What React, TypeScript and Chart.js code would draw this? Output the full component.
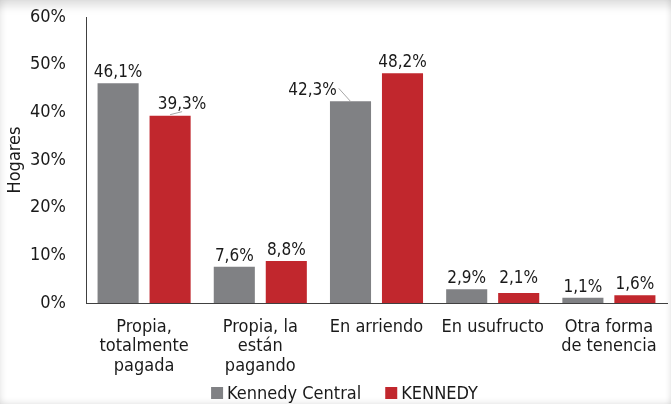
import React, { useEffect, useRef } from "react";
import { Chart, registerables } from "chart.js";

Chart.register(...registerables);

const categories: string[][] = [
  ["Propia,", "totalmente", "pagada"],
  ["Propia, la", "están", "pagando"],
  ["En arriendo"],
  ["En usufructo"],
  ["Otra forma", "de tenencia"],
];
const seriesNames = ["Kennedy Central", "KENNEDY"];
const kennedyCentral = [46.1, 7.6, 42.3, 2.9, 1.1];
const kennedy = [39.3, 8.8, 48.2, 2.1, 1.6];
const yTicksMax = 60;
const yTicksStep = 10;
const yTitle = "Hogares";

const FONT = "'DejaVu Sans Condensed', 'DejaVu Sans', sans-serif";
const GRAY = "#808184";
const RED = "#c1272d";
const TEXT = "#1a1a1a";

// label placement tweaks (dataset-index -> [dx, dy, leader])
const labelShift: Record<string, [number, number, boolean]> = {
  "1-0": [12, -1, true],
  "0-2": [-38, 0, true],
  "1-3": [0, -4, false],
};

const fmt = (v: number) => v.toFixed(1).replace(".", ",") + "%";

const valueLabels = {
  id: "valueLabels",
  afterDatasetsDraw(chart: any) {
    const ctx = chart.ctx;
    ctx.save();
    ctx.font = `17px ${FONT}`;
    ctx.fillStyle = TEXT;
    ctx.textAlign = "center";
    ctx.textBaseline = "alphabetic";
    chart.data.datasets.forEach((ds: any, di: number) => {
      const meta = chart.getDatasetMeta(di);
      meta.data.forEach((bar: any, i: number) => {
        const v = ds.data[i];
        const sh = labelShift[`${di}-${i}`] || [0, 0, false];
        const tx = bar.x + sh[0];
        const ty = bar.y - 6 + sh[1];
        const text = fmt(v);
        ctx.fillText(text, tx, ty);
        if (sh[2]) {
          const w = ctx.measureText(text).width;
          ctx.beginPath();
          ctx.strokeStyle = "#a6a6a6";
          ctx.lineWidth = 1;
          if (sh[0] < 0) {
            ctx.moveTo(tx + w / 2 + 2, ty - 7);
            ctx.lineTo(bar.x, bar.y);
          } else {
            ctx.moveTo(bar.x, bar.y - 1);
            ctx.lineTo(tx, ty + 3);
          }
          ctx.stroke();
        }
      });
    });
    ctx.restore();
  },
};

// legend drawn from the datasets (labels + colours), below the category axis
const bottomLegend = {
  id: "bottomLegend",
  afterDraw(chart: any) {
    const ctx = chart.ctx;
    const box = 12;
    const boxGap = 4;
    const itemGap = 24;
    ctx.save();
    ctx.font = `18px ${FONT}`;
    ctx.textBaseline = "middle";
    ctx.textAlign = "left";
    const items = chart.data.datasets.map((ds: any) => ({
      text: ds.label,
      color: ds.backgroundColor,
      w: ctx.measureText(ds.label).width,
    }));
    const total =
      items.reduce((s: number, it: any) => s + box + boxGap + it.w, 0) +
      itemGap * (items.length - 1);
    const cy = chart.height - 11;
    let x = chart.width / 2 + 9 - total / 2;
    items.forEach((it: any) => {
      ctx.fillStyle = it.color;
      ctx.fillRect(x, cy - box / 2, box, box);
      x += box + boxGap;
      ctx.fillStyle = TEXT;
      ctx.fillText(it.text, x, cy + 1);
      x += it.w + itemGap;
    });
    ctx.restore();
  },
};

export default function App() {
  const ref = useRef<HTMLCanvasElement | null>(null);
  useEffect(() => {
    document.body.style.margin = "0";
    if (!ref.current) return;
    const chart = new Chart(ref.current, {
      type: "bar",
      data: {
        labels: categories,
        datasets: [
          {
            label: seriesNames[0],
            data: kennedyCentral,
            backgroundColor: GRAY,
            categoryPercentage: 0.895,
            barPercentage: 0.79,
          },
          {
            label: seriesNames[1],
            data: kennedy,
            backgroundColor: RED,
            categoryPercentage: 0.895,
            barPercentage: 0.79,
          },
        ],
      },
      options: {
        responsive: false,
        animation: false,
        layout: { padding: { left: 0, top: 17, right: 4, bottom: 29 } },
        plugins: {
          legend: { display: false },
          tooltip: { enabled: false },
        },
        scales: {
          x: {
            grid: {
              display: false,
              drawTicks: true,
              tickLength: 14,
              tickColor: "rgba(0,0,0,0)",
            },
            border: { display: true, color: "#404040", width: 1 },
            ticks: {
              color: TEXT,
              padding: 0,
              maxRotation: 0,
              autoSkip: false,
              font: { family: FONT, size: 18, lineHeight: 1.1 },
            },
            afterFit: (s: any) => {
              s.height = 72;
            },
          },
          y: {
            min: 0,
            max: yTicksMax,
            grid: {
              display: false,
              drawTicks: true,
              tickLength: 20,
              tickColor: "rgba(0,0,0,0)",
            },
            border: { display: true, color: "#404040", width: 1 },
            ticks: {
              stepSize: yTicksStep,
              padding: 0,
              color: TEXT,
              font: { family: FONT, size: 18 },
              callback: (v: any) => v + "%",
            },
            title: {
              display: true,
              text: yTitle,
              color: TEXT,
              font: { family: FONT, size: 18 },
              padding: { top: 5, bottom: 0 },
            },
            afterFit: (s: any) => {
              s.width = 86;
            },
          },
        },
      },
      plugins: [valueLabels, bottomLegend],
    });
    return () => chart.destroy();
  }, []);
  return (
    <div
      style={{
        width: 671,
        height: 404,
        position: "relative",
        background: "#fff",
        boxShadow:
          "inset 0 14px 10px -8px rgba(0,0,0,0.13), inset -5px 0 5px -3px rgba(0,0,0,0.08), inset 0 -6px 6px -4px rgba(0,0,0,0.08), inset 5px 0 6px -3px rgba(0,0,0,0.08)",
      }}
    >
      <canvas ref={ref} width={671} height={404} style={{ display: "block" }} />
    </div>
  );
}
